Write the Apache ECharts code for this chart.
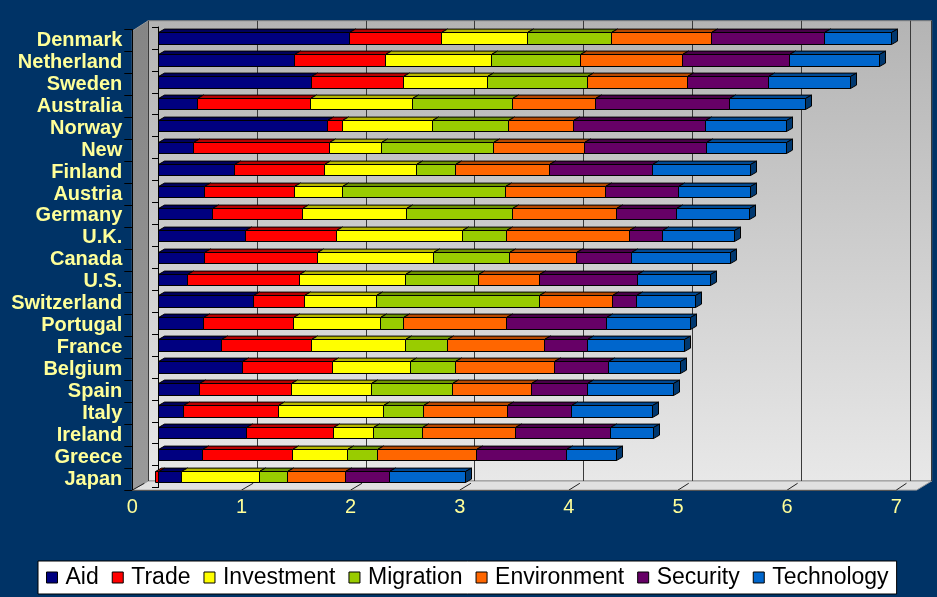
<!DOCTYPE html>
<html>
<head>
<meta charset="utf-8">
<script src="https://cdn.jsdelivr.net/npm/echarts@6/dist/echarts.min.js"></script>
<style>
html, body { margin: 0; padding: 0; background: #003366; }
#chart { width: 937px; height: 597px; }
</style>
</head>
<body>
<div id="chart"></div>
<script>
const countries = ['Denmark', 'Netherland', 'Sweden', 'Australia', 'Norway', 'New', 'Finland',
    'Austria', 'Germany', 'U.K.', 'Canada', 'U.S.', 'Switzerland', 'Portugal', 'France',
    'Belgium', 'Spain', 'Italy', 'Ireland', 'Greece', 'Japan'];

const aid         = [1.76, 1.25, 1.41, 0.36, 1.55, 0.32, 0.70, 0.42, 0.50, 0.80, 0.42, 0.27, 0.87, 0.41, 0.58, 0.77, 0.38, 0.23, 0.81, 0.40, 0.21];
const trade       = [0.84, 0.84, 0.84, 1.04, 0.14, 1.25, 0.83, 0.83, 0.82, 0.84, 1.04, 1.03, 0.47, 0.83, 0.83, 0.83, 0.84, 0.87, 0.80, 0.83, -0.03];
const investment  = [0.79, 0.97, 0.77, 0.93, 0.83, 0.48, 0.84, 0.44, 0.96, 1.15, 1.07, 0.97, 0.66, 0.80, 0.86, 0.72, 0.74, 0.97, 0.37, 0.51, 0.72];
const migration   = [0.77, 0.82, 0.92, 0.92, 0.70, 1.03, 0.36, 1.50, 0.97, 0.41, 0.70, 0.67, 1.50, 0.21, 0.39, 0.41, 0.74, 0.37, 0.45, 0.27, 0.26];
const environment = [0.92, 0.94, 0.92, 0.77, 0.59, 0.84, 0.86, 0.92, 0.96, 1.13, 0.61, 0.56, 0.67, 0.95, 0.89, 0.91, 0.73, 0.77, 0.85, 0.91, 0.53];
const security    = [1.04, 0.98, 0.75, 1.23, 1.22, 1.12, 0.95, 0.67, 0.55, 0.30, 0.51, 0.90, 0.22, 0.92, 0.39, 0.50, 0.51, 0.59, 0.87, 0.83, 0.40];
const technology  = [0.62, 0.83, 0.75, 0.70, 0.74, 0.73, 0.90, 0.66, 0.67, 0.66, 0.91, 0.67, 0.55, 0.77, 0.89, 0.66, 0.79, 0.74, 0.40, 0.46, 0.70];

const seriesNames = ['Aid', 'Trade', 'Investment', 'Migration', 'Environment', 'Security', 'Technology'];
const seriesData = [aid, trade, investment, migration, environment, security, technology];
const seriesColors = ['#000080', '#ff0000', '#ffff00', '#99cc00', '#ff6600', '#660066', '#0066cc'];
const xTicks = [0, 1, 2, 3, 4, 5, 6, 7];

const FONT = '"Liberation Sans", Arial, sans-serif';
const DX = 6, DY = 3.4;

function shade(hex, k) {
    const n = parseInt(hex.slice(1), 16);
    const r = Math.round(((n >> 16) & 255) * k);
    const g = Math.round(((n >> 8) & 255) * k);
    const b = Math.round((n & 255) * k);
    return 'rgb(' + r + ',' + g + ',' + b + ')';
}

// stack positives to the right and negatives to the left, like the original
const posAcc = countries.map(() => 0);
const negAcc = countries.map(() => 0);
const series = seriesNames.map((name, s) => {
    const data = seriesData[s].map((v, i) => {
        let start, end;
        if (v >= 0) { start = posAcc[i]; end = start + v; posAcc[i] = end; }
        else { start = negAcc[i]; end = start + v; negAcc[i] = end; }
        return [i, start, end, v];
    });
    return {
        name: name,
        type: 'custom',
        xAxisIndex: 1,
        yAxisIndex: 1,
        itemStyle: { color: seriesColors[s] },
        encode: { x: [1, 2], y: 0 },
        renderItem: function (params, api) {
            const cat = api.value(0);
            const a = api.coord([api.value(1), cat]);
            const b = api.coord([api.value(2), cat]);
            const h = api.size([0, 1])[1] * 0.52;
            const x0 = Math.round(Math.min(a[0], b[0])) + 0.5;
            const x1 = Math.round(Math.max(a[0], b[0])) + 0.5;
            const yT = Math.round(a[1] - h / 2) + 0.5;
            const yB = Math.round(a[1] + h / 2) + 0.5;
            const col = seriesColors[s];
            const stroke = { stroke: '#000', lineWidth: 1 };
            const children = [
                { type: 'polygon', shape: { points: [[x0, yT], [x1, yT], [x1 + DX, yT - DY], [x0 + DX, yT - DY]] },
                  style: Object.assign({ fill: shade(col, 0.72) }, stroke) },
                { type: 'rect', shape: { x: x0, y: yT, width: x1 - x0, height: yB - yT },
                  style: Object.assign({ fill: col }, stroke) }
            ];
            if (api.value(3) >= 0) {
                children.push({ type: 'polygon',
                    shape: { points: [[x1, yT], [x1 + DX, yT - DY], [x1 + DX, yB - DY], [x1, yB]] },
                    style: Object.assign({ fill: shade(col, 0.55) }, stroke) });
            }
            return { type: 'group', children: children };
        },
        data: data
    };
});

// walls of the pseudo 3D plot
const wallL = 148.3, wallR = 931.7, wallT = 20.7, wallB = 481;
const frontL = 132.3, frontB = 490.1, backUnit = 108.8, frontUnit = 109.14;
const graphic = [
    { type: 'rect', z: -5, shape: { x: wallL, y: wallT, width: wallR - wallL, height: wallB - wallT },
      style: { fill: new echarts.graphic.LinearGradient(0, 0, 0, 1, [
          { offset: 0, color: '#b4b4b4' }, { offset: 1, color: '#e8e8e8' }]), stroke: '#808080', lineWidth: 1 } },
    { type: 'polygon', z: -5, shape: { points: [[frontL, 31], [wallL, wallT], [wallL, wallB], [frontL, frontB]] },
      style: { fill: new echarts.graphic.LinearGradient(0, 0, 0, 1, [
          { offset: 0, color: '#858585' }, { offset: 1, color: '#9a9a9a' }]), stroke: '#9a9a9a', lineWidth: 1 } },
    { type: 'polygon', z: -5, shape: { points: [[frontL, frontB], [wallL, wallB], [wallR, wallB], [wallR - 15, frontB]] },
      style: { fill: '#e0e0e0', stroke: '#9a9a9a', lineWidth: 1 } }
];
xTicks.forEach(v => {
    const fx = frontL + frontUnit * v, bx = wallL + backUnit * v;
    graphic.push({ type: 'line', z: -4,
        shape: { x1: fx, y1: frontB, x2: fx + (bx - fx) * 0.75, y2: frontB - (frontB - wallB) * 0.75 },
        style: { stroke: '#202020', lineWidth: 1 } });
});

const chart = echarts.init(document.getElementById('chart'), null, { renderer: 'canvas' });
chart.setOption({
    backgroundColor: '#003366',
    animation: false,
    textStyle: { fontFamily: FONT },
    graphic: graphic,
    grid: [
        { left: wallL, right: 937 - wallR, top: wallT, bottom: 597 - wallB },
        { left: 158, right: 937 - (158 + 7 * backUnit), top: 27, bottom: 109.4 },
        { left: frontL, right: 937 - (frontL + 7 * frontUnit), top: 29.5, bottom: 597 - 29.5 - 460.6 }
    ],
    xAxis: [
        { gridIndex: 0, type: 'value', min: 0, max: (wallR - wallL) / backUnit, interval: 1,
          axisLabel: { show: false }, axisTick: { show: false }, axisLine: { show: false },
          splitLine: { show: true, lineStyle: { color: '#3a3a3a', width: 1 } } },
        { gridIndex: 1, type: 'value', min: 0, max: 7, show: false },
        { gridIndex: 2, type: 'value', min: 0, max: 7, interval: 1,
          axisLabel: { color: '#ffff99', fontSize: 20, margin: 7, fontFamily: FONT },
          axisTick: { show: false },
          axisLine: { show: true, lineStyle: { color: '#555', width: 1 } },
          splitLine: { show: false } }
    ],
    yAxis: [
        { gridIndex: 0, type: 'value', show: false, min: 0, max: 1, splitLine: { show: false } },
        { gridIndex: 1, type: 'category', inverse: true, data: countries, offset: 5,
          axisLabel: { show: false },
          axisTick: { show: true, length: 6, interval: 0, lineStyle: { color: '#000' } },
          axisLine: { show: true, lineStyle: { color: '#000' } } },
        { gridIndex: 2, type: 'category', inverse: true, data: countries,
          axisLabel: { color: '#ffff99', fontSize: 20, fontWeight: 'bold', margin: 10, interval: 0,
                       padding: [5, 0, 0, 0], fontFamily: FONT },
          axisTick: { show: true, length: 8, interval: 0, lineStyle: { color: '#000' } },
          axisLine: { show: true, lineStyle: { color: '#000' } } }
    ],
    legend: {
        data: seriesNames,
        left: 38,
        top: 561,
        orient: 'horizontal',
        icon: 'rect',
        itemWidth: 11,
        itemHeight: 11,
        itemGap: 13,
        padding: [5, 8],
        backgroundColor: '#ffffff',
        borderColor: '#000000',
        borderWidth: 1,
        borderRadius: 0,
        itemStyle: { borderColor: '#000', borderWidth: 1 },
        textStyle: { color: '#000', fontSize: 23, fontFamily: FONT, padding: [0, 0, 0, 3] }
    },
    series: series
});
</script>
</body>
</html>
